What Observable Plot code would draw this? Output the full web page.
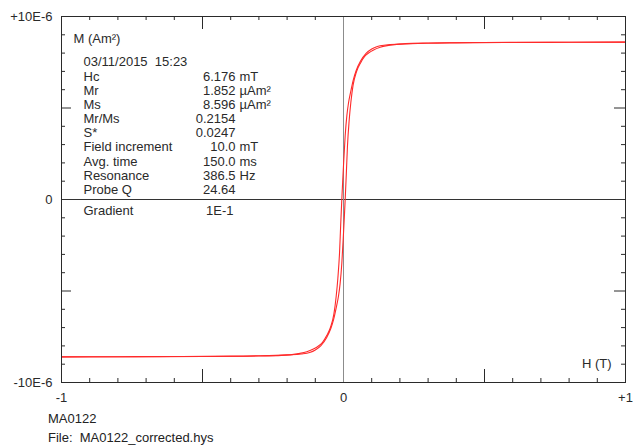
<!DOCTYPE html>
<html><head><meta charset="utf-8">
<script src="https://cdn.jsdelivr.net/npm/d3@7"></script>
<script src="https://cdn.jsdelivr.net/npm/@observablehq/plot@0.6"></script>
<style>
body{margin:0;background:#fff;font-family:"Liberation Sans",Arial,sans-serif;}
#cap{font-size:13px;line-height:19px;padding-left:48px;padding-top:1px;white-space:pre;color:#222;}
</style></head><body>
<div id="chart"></div>
<div id="cap"></div>
<script>
// Descending branch (field from +1 T to -1 T), stored in increasing H order; M in 1E-6 Am²
const hDesc = [-1.0,-0.7,-0.5,-0.3,-0.22,-0.16,-0.13,-0.105,-0.09,-0.075,-0.06,-0.046,-0.034,-0.026,-0.02,-0.014,-0.01,-0.006,-0.003,0,0.006,0.012,0.018,0.025,0.035,0.045,0.06,0.08,0.1,0.12,0.15,0.2,0.3,0.4,0.6,0.8,1.0];
const mDesc = [-8.60,-8.59,-8.58,-8.55,-8.52,-8.42,-8.32,-8.16,-8.02,-7.82,-7.45,-6.98,-6.25,-5.3,-4.3,-2.9,-1.4,0,0.95,1.85,3.5,4.6,5.3,5.85,6.55,7.05,7.55,7.98,8.22,8.36,8.44,8.49,8.54,8.56,8.58,8.59,8.60];
// Ascending branch (field from -1 T to +1 T)
const hAsc = [-1.0,-0.8,-0.6,-0.4,-0.3,-0.2,-0.15,-0.12,-0.1,-0.08,-0.06,-0.045,-0.035,-0.025,-0.018,-0.012,-0.006,0,0.003,0.006,0.01,0.014,0.02,0.026,0.034,0.046,0.06,0.075,0.09,0.105,0.13,0.16,0.22,0.3,0.5,0.7,1.0];
const mAsc = [-8.60,-8.59,-8.58,-8.56,-8.54,-8.49,-8.44,-8.36,-8.22,-7.98,-7.55,-7.05,-6.55,-5.85,-5.3,-4.6,-3.5,-1.85,-0.95,0,1.4,2.9,4.3,5.3,6.25,6.98,7.45,7.82,8.02,8.16,8.32,8.42,8.52,8.55,8.58,8.59,8.60];

const xTickLabels = [-1, 0, 1];
const xTickText = ["-1", "0", "+1"];
const yTickLabels = [-10, 0, 10];
const yTickText = ["-10E-6", "0", "+10E-6"];
const xMinor = [-0.9,-0.8,-0.7,-0.6,-0.4,-0.3,-0.2,-0.1,0.1,0.2,0.3,0.4,0.6,0.7,0.8,0.9];
const xMajor = [-0.5, 0.5];
const yMinor = [-9,-8,-7,-6,-4,-3,-2,-1,1,2,3,4,6,7,8,9];
const yMajor = [-5, 5];

const yLabel = "M (Am²)";
const xLabel = "H (T)";
const infoLabels = ["03/11/2015  15:23","Hc","Mr","Ms","Mr/Ms","S*","Field increment","Avg. time","Resonance","Probe Q"];
const infoValues = ["","6.176","1.852","8.596","0.2154","0.0247","10.0","150.0","386.5","24.64"];
const infoUnits = ["","mT","µAm²","µAm²","","","mT","ms","Hz",""];
const gradLabel = "Gradient";
const gradValue = "1E-1";
const captionLines = ["MA0122", "File:  MA0122_corrected.hys"];

const desc = hDesc.map((h, i) => ({h, m: mDesc[i]}));
const asc = hAsc.map((h, i) => ({h, m: mAsc[i]}));

const W = 633, Ht = 408, mL = 61, mR = 8, mT = 16, mB = 26;
const iH = Ht - mT - mB, iW = W - mL - mR;
const ink = "#2a2a2a";

const txt = (s, o) => Plot.text([s], {text: d => d, lineAnchor: "middle", fill: ink, ...o});

const infoMarks = [];
infoLabels.forEach((lab, i) => {
  const dy = 45.7 + i * 14.18;
  infoMarks.push(txt(lab, {frameAnchor: "top-left", dx: 22, dy, textAnchor: "start"}));
  if (infoValues[i]) infoMarks.push(txt(infoValues[i], {frameAnchor: "top-left", dx: 174, dy, textAnchor: "end"}));
  if (infoUnits[i]) infoMarks.push(txt(infoUnits[i], {frameAnchor: "top-left", dx: 178, dy, textAnchor: "start"}));
});

const chart = Plot.plot({
  width: W, height: Ht,
  marginLeft: mL, marginRight: mR, marginTop: mT, marginBottom: mB,
  style: {fontFamily: "Liberation Sans, Arial, sans-serif", fontSize: "13px", color: ink, background: "#fff"},
  x: {domain: [-1, 1]},
  y: {domain: [-10, 10]},
  marks: [
    Plot.ruleY([0], {stroke: "#333"}),
    Plot.ruleX([0], {stroke: "#8c8c8c"}),
    Plot.tickX(xMinor, {x: d => d, insetBottom: iH - 4, stroke: ink}),
    Plot.tickX(xMinor, {x: d => d, insetTop: iH - 4, stroke: ink}),
    Plot.tickX(xMajor, {x: d => d, insetBottom: iH - 13, stroke: ink}),
    Plot.tickX(xMajor, {x: d => d, insetTop: iH - 13, stroke: ink}),
    Plot.tickY(yMinor, {y: d => d, insetRight: iW - 4, stroke: ink}),
    Plot.tickY(yMinor, {y: d => d, insetLeft: iW - 4, stroke: ink}),
    Plot.tickY(yMajor, {y: d => d, insetRight: iW - 10, stroke: ink}),
    Plot.tickY(yMajor, {y: d => d, insetLeft: iW - 11, stroke: ink}),
    Plot.line(desc, {x: "h", y: "m", stroke: "#ff2a2a", strokeWidth: 1.1, curve: "monotone-x"}),
    Plot.line(asc, {x: "h", y: "m", stroke: "#ff2a2a", strokeWidth: 1.1, curve: "monotone-x"}),
    Plot.frame({stroke: ink}),
    Plot.axisX({anchor: "bottom", ticks: xTickLabels, tickSize: 0, tickPadding: 10, tickFormat: d => xTickText[xTickLabels.indexOf(d)], label: null, fill: ink}),
    Plot.axisY({anchor: "left", ticks: yTickLabels, tickSize: 0, tickPadding: 9, tickFormat: d => yTickText[yTickLabels.indexOf(d)], label: null, fill: ink}),
    txt(yLabel, {frameAnchor: "top-left", dx: 12, dy: 22.3, textAnchor: "start"}),
    txt(xLabel, {frameAnchor: "bottom-right", dx: -14, dy: -19, textAnchor: "end"}),
    ...infoMarks,
    txt(gradLabel, {frameAnchor: "top-left", dx: 22, dy: 194.7, textAnchor: "start"}),
    txt(gradValue, {frameAnchor: "top-left", dx: 172, dy: 194.7, textAnchor: "end"})
  ]
});
document.getElementById("chart").appendChild(chart);
document.getElementById("cap").textContent = captionLines.join("\n");
</script>
</body></html>
